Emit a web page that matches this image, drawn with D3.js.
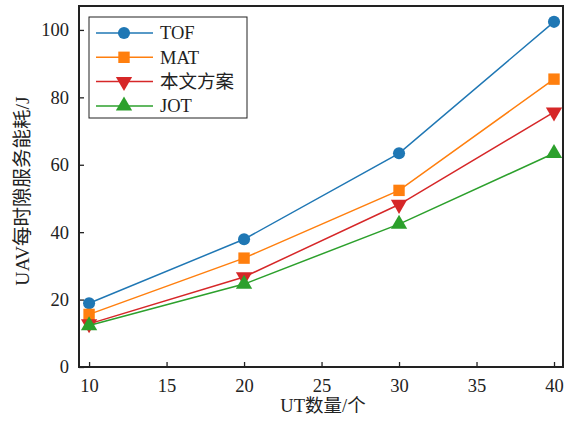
<!DOCTYPE html>
<html>
<head>
<meta charset="utf-8">
<script src="https://cdn.jsdelivr.net/npm/d3@7"></script>
<style>
  body { margin: 0; background: #fff; }
  svg text { font-family: "Liberation Serif", "Times New Roman", "Noto Sans CJK SC", serif; fill: #222; }
</style>
</head>
<body>
<div id="chart"></div>
<script>
// data
const utCounts = [10, 20, 30, 40];
const tofValues = [18.9, 37.9, 63.4, 102.4];
const matValues = [15.6, 32.3, 52.4, 85.4];
const oursValues = [12.8, 26.7, 48.2, 75.6];
const jotValues = [12.3, 24.6, 42.4, 63.4];
const seriesNames = ['TOF', 'MAT', '本文方案', 'JOT'];
const seriesColors = ['#1f77b4', '#ff7f0e', '#d62728', '#2ca02c'];
const seriesShapes = [d3.symbolCircle, d3.symbolSquare, 'down', d3.symbolTriangle];
const xTicks = [10, 15, 20, 25, 30, 35, 40];
const yTicks = [0, 20, 40, 60, 80, 100];

const width = 571;
const height = 421;
const margin = {top: 6, right: 8, bottom: 54, left: 79};
const fontStack = '"Liberation Serif", "Times New Roman", "Noto Sans CJK SC", serif';

const svg = d3.select('#chart')
  .append('svg')
  .attr('width', width)
  .attr('height', height);

const xCoord = d3.scaleLinear()
  .domain([9.35, 40.58])
  .range([margin.left, width - margin.right]);

const yCoord = d3.scaleLinear()
  .domain([0, 107.1])
  .range([height - margin.bottom, margin.top]);

// axes, ticks point inward
const xAxis = d3.axisBottom(xCoord).tickValues(xTicks).tickSizeInner(-5).tickSizeOuter(0).tickPadding(12);
const yAxis = d3.axisLeft(yCoord).tickValues(yTicks).tickSizeInner(-5).tickSizeOuter(0).tickPadding(10);

function styleAxis(g) {
  g.attr('font-family', fontStack);
  g.select('.domain').remove();
  g.selectAll('line').attr('stroke', '#222').attr('stroke-width', 1.3);
  g.selectAll('text').attr('font-size', 18.5).attr('fill', '#222');
}

svg.append('g')
  .attr('transform', 'translate(0,' + (height - margin.bottom) + ')')
  .call(xAxis)
  .call(styleAxis);

svg.append('g')
  .attr('transform', 'translate(' + margin.left + ',0)')
  .call(yAxis)
  .call(styleAxis);

function symbolPath(shape, size) {
  if (shape === 'down') {
    return d3.symbol(d3.symbolTriangle, size)();
  }
  return d3.symbol(shape, size)();
}

const allSeries = [tofValues, matValues, oursValues, jotValues];

const drawLine = d3.line()
  .x((d, i) => xCoord(utCounts[i]))
  .y((d) => yCoord(d));

allSeries.forEach((values, s) => {
  svg.append('path')
    .datum(values)
    .attr('d', drawLine)
    .attr('fill', 'none')
    .attr('stroke', seriesColors[s])
    .attr('stroke-width', 1.5);

  svg.selectAll('.mk' + s)
    .data(values)
    .enter()
    .append('path')
    .attr('class', 'mk' + s)
    .attr('d', symbolPath(seriesShapes[s], s === 1 ? 130 : 115))
    .attr('transform', (d, i) => 'translate(' + xCoord(utCounts[i]) + ',' + yCoord(d) + ')' +
      (seriesShapes[s] === 'down' ? ' rotate(180)' : ''))
    .attr('fill', seriesColors[s]);
});

// frame
svg.append('rect')
  .attr('x', margin.left)
  .attr('y', margin.top)
  .attr('width', width - margin.left - margin.right)
  .attr('height', height - margin.top - margin.bottom)
  .attr('fill', 'none')
  .attr('stroke', '#222')
  .attr('stroke-width', 2);

// legend
const legend = svg.append('g').attr('transform', 'translate(89,17)');
legend.append('rect')
  .attr('width', 158)
  .attr('height', 101)
  .attr('fill', '#fff')
  .attr('stroke', '#222')
  .attr('stroke-width', 1);

seriesNames.forEach((name, s) => {
  const y = 16 + s * 24.3;
  legend.append('line')
    .attr('x1', 7).attr('x2', 64)
    .attr('y1', y).attr('y2', y)
    .attr('stroke', seriesColors[s])
    .attr('stroke-width', 1.5);
  legend.append('path')
    .attr('d', symbolPath(seriesShapes[s], s === 1 ? 130 : 115))
    .attr('transform', 'translate(35,' + y + ')' + (seriesShapes[s] === 'down' ? ' rotate(180)' : ''))
    .attr('fill', seriesColors[s]);
  legend.append('text')
    .attr('x', 71)
    .attr('y', y)
    .attr('dy', '0.35em')
    .attr('font-size', 18.5)
    .text(name);
});

// axis titles
svg.append('text')
  .attr('x', 323)
  .attr('y', 412)
  .attr('text-anchor', 'middle')
  .attr('font-size', 18.5)
  .text('UT数量/个');

svg.append('text')
  .attr('transform', 'translate(29,191) rotate(-90)')
  .attr('text-anchor', 'middle')
  .attr('font-size', 19.5)
  .text('UAV每时隙服务能耗/J');
</script>
</body>
</html>
